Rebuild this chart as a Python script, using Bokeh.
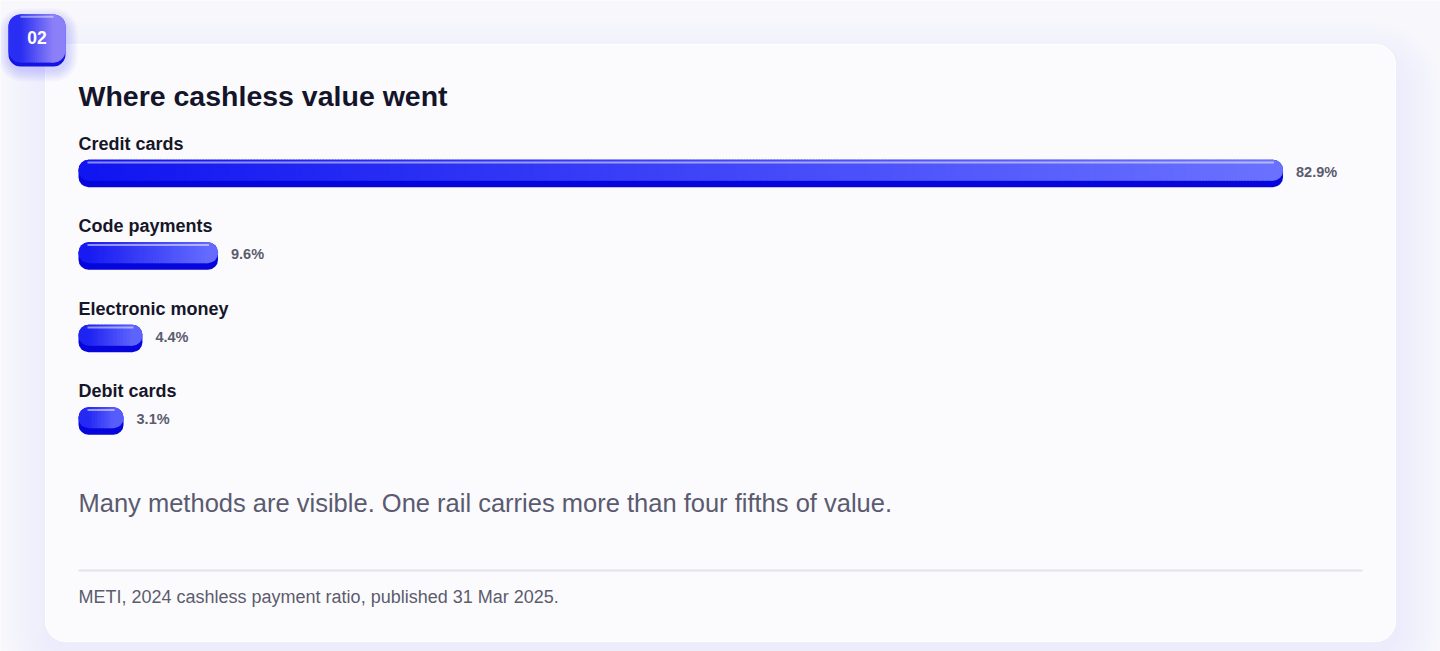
from bokeh.plotting import figure
from bokeh.models import Range1d, ColumnDataSource
from bokeh.embed import file_html
from bokeh.resources import INLINE
from bokeh.core.properties import value

# ---------------- data ----------------
categories = ["Credit cards", "Code payments", "Electronic money", "Debit cards"]
shares = [82.9, 9.6, 4.4, 3.1]
share_labels = ["82.9%", "9.6%", "4.4%", "3.1%"]
title_text = "Where cashless value went"
badge_text = "02"
subtitle_text = "Many methods are visible. One rail carries more than four fifths of value."
source_text = "METI, 2024 cashless payment ratio, published 31 Mar 2025."

# ---------------- layout helpers ----------------
FONT = value("Liberation Sans")
PX = 14.53          # pixels per percentage point
ORIGIN = 78         # page x of 0%
W, H = 1440, 651


def X(px):
    return (px - ORIGIN) / PX


def D(px):
    return px / PX


def TB(y, fs):
    # place the alphabetic baseline at page y (renderer offset compensation)
    return y - 0.39 * fs


def hex2rgb(h):
    h = h.lstrip("#")
    return [int(h[i:i + 2], 16) for i in (0, 2, 4)]


def mix(c1, c2, t):
    a, b = hex2rgb(c1), hex2rgb(c2)
    return "#%02x%02x%02x" % tuple(int(round(a[i] + (b[i] - a[i]) * t)) for i in range(3))


p = figure(width=W, height=H, output_backend="svg", toolbar_location=None,
           x_range=Range1d(X(0), X(W)), y_range=Range1d(H, 0),
           min_border=0)
p.axis.visible = False
p.grid.visible = False
p.outline_line_color = None
p.background_fill_color = "#f8f8fc"
p.border_fill_color = "#f8f8fc"

# ---------------- card shadow + card ----------------
CL, CR, CT, CB = 45, 1395, 44, 641
for k in range(12, 0, -1):
    e = k * 4
    p.quad(left=X(CL - e + 4), right=X(CR + e), top=CT - e + 22, bottom=CB + e + 10,
           fill_color="#5a5af0", fill_alpha=0.009, line_color=None,
           border_radius=20 + e)
p.quad(left=X(CL), right=X(CR), top=CT, bottom=CB, fill_color="#fbfbfd",
       line_color="#ffffff", line_width=1, border_radius=20)

# ---------------- badge ----------------
BL, BR, BT, BB = 8, 65, 14, 66
for k in range(6, 0, -1):
    e = k * 2
    p.quad(left=X(BL - e + 2), right=X(BR + e), top=BT - e + 6, bottom=BB + e + 3,
           fill_color="#2a2af0", fill_alpha=0.03, line_color=None, border_radius=12 + e)
p.quad(left=X(BL), right=X(BR), top=BT, bottom=BB, fill_color="#1414e2",
       line_color=None, border_radius=12)
b_left, b_right = "#2a2ef2", "#8c80f8"
p.quad(left=X(BL), right=X(BL + 24), top=BT, bottom=BB - 4, fill_color=b_left,
       line_color=None, border_radius=12)
p.quad(left=X(BR - 24), right=X(BR), top=BT, bottom=BB - 4, fill_color=b_right,
       line_color=None, border_radius=12)
nb = 16
bw = (BR - BL - 24) / nb
for i in range(nb):
    x0 = BL + 12 + i * bw
    p.quad(left=X(x0), right=X(x0 + bw + 1), top=BT, bottom=BB - 4,
           fill_color=mix(b_left, b_right, (i + 0.5) / nb), line_color=None)
p.segment(x0=[X(BL + 12)], x1=[X(BR - 12)], y0=[BT + 2.2], y1=[BT + 2.2],
          line_color="#ffffff", line_alpha=0.45, line_width=2)
p.text(x=[X(36.5)], y=[TB(44, 17.5)], text=[badge_text], text_font=FONT,
       text_font_style="bold", text_font_size="17.5px", text_color="#ffffff",
       text_align="center", text_baseline="alphabetic")

# ---------------- title ----------------
p.text(x=[X(78)], y=[TB(106.5, 28.5)], text=[title_text], text_font=FONT,
       text_font_style="bold", text_font_size="28.5px", text_color="#14142a",
       text_baseline="alphabetic")

# ---------------- bars ----------------
ROW = 82.5
LABEL_BASE = 150.5
BAR_TOP = 159.3
BAR_H = 27.5
TOP_H = 21
R = 10
c_left, c_right = "#1014f0", "#6b72ff"

lab_y = [TB(LABEL_BASE + ROW * i, 18) for i in range(len(categories))]
bar_t = [BAR_TOP + ROW * i for i in range(len(categories))]
bar_b = [t + BAR_H for t in bar_t]
top_b = [t + TOP_H for t in bar_t]
zeros = [0.0] * len(shares)

# dark base
base = ColumnDataSource(dict(left=zeros, right=shares, top=bar_t, bottom=bar_b))
p.quad(left="left", right="right", top="top", bottom="bottom", source=base,
       fill_color="#0606dc", line_color=None, border_radius=R)

# end caps of the gradient face
caps = ColumnDataSource(dict(
    left=zeros + [s - D(2 * R) for s in shares],
    right=[D(2 * R)] * len(shares) + shares,
    top=bar_t + bar_t,
    bottom=top_b + top_b,
    color=[mix(c_left, c_right, D(R) / s) for s in shares]
          + [mix(c_left, c_right, 1 - D(R) / s) for s in shares],
))
p.quad(left="left", right="right", top="top", bottom="bottom", source=caps,
       fill_color="color", line_color=None, border_radius=R)

# gradient strips between the caps
sl, sr, st, sb, sc = [], [], [], [], []
for s, t, b in zip(shares, bar_t, top_b):
    inner = s - D(2 * R)
    n = max(6, int(inner * PX / 3))
    w = inner / n
    for k in range(n):
        x0 = D(R) + k * w
        sl.append(x0)
        sr.append(min(x0 + w + D(1.0), s - D(R)))
        st.append(t)
        sb.append(b)
        frac = (x0 + w / 2) / s
        sc.append(mix(c_left, c_right, frac))
strips = ColumnDataSource(dict(left=sl, right=sr, top=st, bottom=sb, color=sc))
p.quad(left="left", right="right", top="top", bottom="bottom", source=strips,
       fill_color="color", line_color=None)

# top highlight
hl = ColumnDataSource(dict(x0=[D(9)] * len(shares), x1=[s - D(9) for s in shares],
                           y=[t + 2.6 for t in bar_t]))
p.segment(x0="x0", x1="x1", y0="y", y1="y", source=hl, line_color="#ffffff",
          line_alpha=0.5, line_width=2)

# category labels
p.text(x=[0.0] * len(categories), y=lab_y, text=categories, text_font=FONT,
       text_font_style="bold", text_font_size="18px", text_color="#16162a",
       text_baseline="alphabetic")

# value labels
p.text(x=[s + D(13) for s in shares], y=[TB(t + 17.8, 14.5) for t in bar_t],
       text=share_labels, text_font=FONT, text_font_style="bold",
       text_font_size="14.5px", text_color="#5b5b6e", text_baseline="alphabetic")

# ---------------- takeaway, divider, source ----------------
p.text(x=[X(78)], y=[TB(512, 25.5)], text=[subtitle_text], text_font=FONT,
       text_font_size="25.5px", text_color="#5a5a70", text_baseline="alphabetic")
p.segment(x0=[X(78)], x1=[X(1362)], y0=[570], y1=[570], line_color="#e3e3ea",
          line_width=2)
p.text(x=[X(78)], y=[TB(603.5, 18)], text=[source_text], text_font=FONT,
       text_font_size="18px", text_color="#5c5c6e", text_baseline="alphabetic")

open("out.html", "w").write(file_html(p, INLINE))
